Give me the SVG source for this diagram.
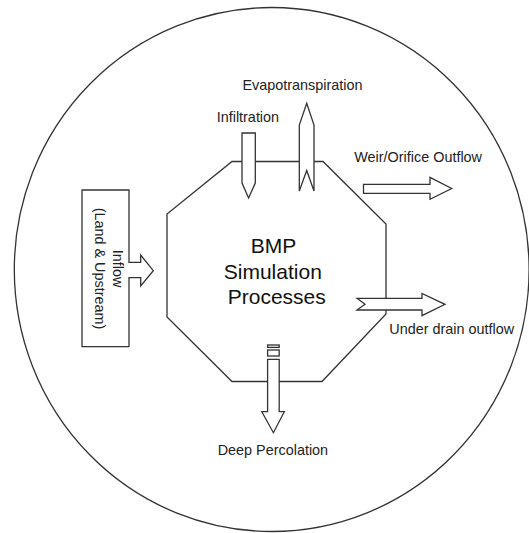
<svg xmlns="http://www.w3.org/2000/svg" width="529" height="533" viewBox="0 0 529 533">
  <style>
    .line { fill: none; stroke: #333; stroke-width: 1.3; stroke-linejoin: miter; }
    .shape { fill: #fff; stroke: #333; stroke-width: 1.3; stroke-linejoin: miter; }
    .label { font-family: "Liberation Sans", Arial, sans-serif; font-size: 14.4px; fill: #222; }
    .title { font-family: "Liberation Sans", Arial, sans-serif; font-size: 21px; fill: #111; text-anchor: middle; }
  </style>
  <rect width="529" height="533" fill="#fff"/>

  <!-- system boundary -->
  <g id="boundary">
    <ellipse class="line" cx="271.7" cy="269.5" rx="257.4" ry="262"/>
  </g>

  <!-- central BMP process -->
  <g id="bmp">
    <polygon class="shape" points="232,161.5 323,161.5 386,224 386,314 322,381.5 232,381.5 167,317 167,214"/>
    <text class="title" x="273.4" y="253.3">BMP</text>
    <text class="title" x="272.8" y="278.5">Simulation</text>
    <text class="title" x="276.8" y="304">Processes</text>
  </g>

  <!-- inflow source box with its arrow -->
  <g id="inflow">
    <path class="shape" d="M82,190 H129 V262.3 H140.7 V255 L153.3,270.7 L140.7,286 V277.7 H129 V346.7 H82 Z"/>
    <text class="label" text-anchor="middle" transform="translate(112.5,268.5) rotate(90)">Inflow</text>
    <text class="label" text-anchor="middle" transform="translate(94.7,268.5) rotate(90)">(Land &amp; Upstream)</text>
  </g>

  <!-- flow arrows -->
  <g id="connectors">
    <polygon id="arrow-infiltration" class="shape" points="242,133 255.3,133 255.3,183 248.6,198 242,183"/>
    <polygon id="arrow-evapotranspiration" class="shape" points="306.7,103.3 314,125 314,191 306.7,170.5 299.3,191 299.3,125"/>
    <polygon id="arrow-weir" class="shape" points="363.5,184.3 430,184.3 430,177.3 451.7,188.5 430,199.3 430,193.3 363.5,193.3"/>
    <polygon id="arrow-underdrain" class="shape" points="357,298.3 365,304.3 357,310 422,310 422,315.7 445,304.3 422,293.5 422,298.3"/>
    <g id="arrow-percolation">
      <rect class="shape" x="267.6" y="345" width="11.6" height="2.4"/>
      <rect class="shape" x="267.6" y="350" width="11.6" height="6"/>
      <polygon class="shape" points="267.6,359.3 279.2,359.3 279.2,411.7 284.3,411.7 273.4,432.7 261.8,411.7 267.6,411.7"/>
    </g>
  </g>

  <!-- process labels -->
  <g id="label-evapotranspiration"><text class="label" x="242.5" y="89.5">Evapotranspiration</text></g>
  <g id="label-infiltration"><text class="label" x="216.7" y="122">Infiltration</text></g>
  <g id="label-weir"><text class="label" x="354.3" y="161.5">Weir/Orifice Outflow</text></g>
  <g id="label-underdrain"><text class="label" x="389.3" y="334">Under drain outflow</text></g>
  <g id="label-percolation"><text class="label" x="217.7" y="454.5">Deep Percolation</text></g>
</svg>
